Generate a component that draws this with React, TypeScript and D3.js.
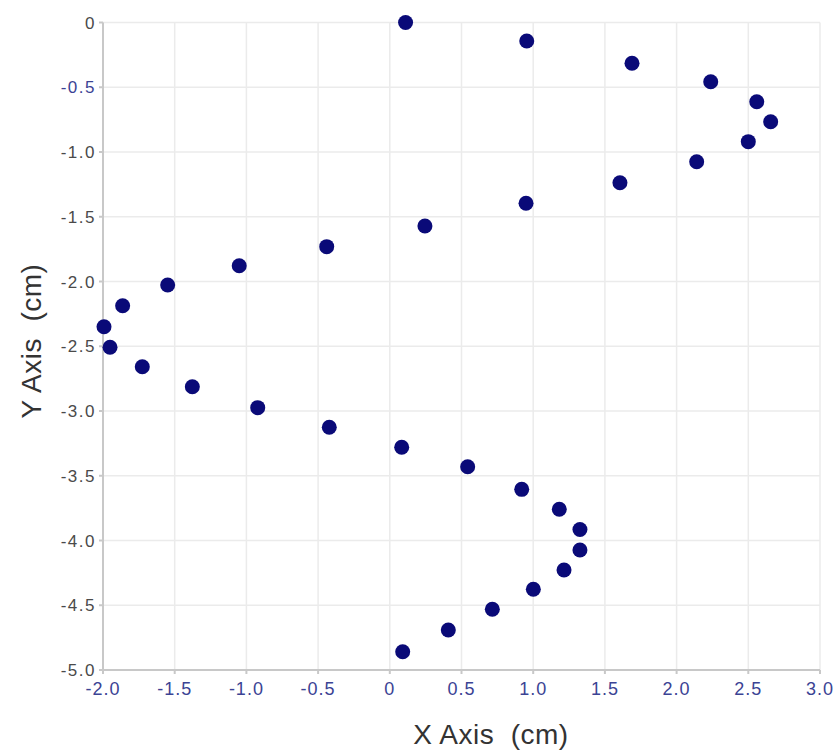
import React from "react";
import * as d3 from "d3";

// Measured positions (cm)
const xValues = [
  0.11, 0.955, 1.689, 2.238, 2.559, 2.656, 2.5, 2.14, 1.605, 0.95, 0.245,
  -0.44, -1.05, -1.549, -1.863, -1.993, -1.951, -1.726, -1.377, -0.921,
  -0.422, 0.083, 0.543, 0.92, 1.182, 1.326, 1.326, 1.215, 1.001, 0.715,
  0.408, 0.09,
];
const yValues = [
  0.0, -0.143, -0.315, -0.457, -0.612, -0.766, -0.92, -1.075, -1.237, -1.396,
  -1.571, -1.731, -1.878, -2.027, -2.187, -2.349, -2.508, -2.658, -2.813,
  -2.974, -3.126, -3.28, -3.43, -3.605, -3.759, -3.915, -4.073, -4.228,
  -4.377, -4.531, -4.691, -4.859,
];
const xTicks = [-2.0, -1.5, -1.0, -0.5, 0, 0.5, 1.0, 1.5, 2.0, 2.5, 3.0];
const xTickLabels = ["-2.0", "-1.5", "-1.0", "-0.5", "0", "0.5", "1.0", "1.5", "2.0", "2.5", "3.0"];
const yTicks = [0, -0.5, -1.0, -1.5, -2.0, -2.5, -3.0, -3.5, -4.0, -4.5, -5.0];
const yTickLabels = ["0", "-0.5", "-1.0", "-1.5", "-2.0", "-2.5", "-3.0", "-3.5", "-4.0", "-4.5", "-5.0"];

const W = 834;
const H = 751;
const left = 103;
const right = 820;
const top = 22.5;
const bottom = 670;

const font = "'Liberation Sans', Arial, sans-serif";

export default function App() {
  const x = d3.scaleLinear().domain([-2, 3]).range([left, right]);
  const y = d3.scaleLinear().domain([-5, 0]).range([bottom, top]);
  const points = xValues.map((v, i) => ({ x: v, y: yValues[i] }));

  return (
    <svg
      width={W}
      height={H}
      style={{ position: "absolute", left: 0, top: 0, background: "#fff" }}
    >
      {/* grid */}
      <g stroke="#ebebeb" strokeWidth={1.5}>
        {xTicks.map((t) => (
          <line key={"gx" + t} x1={x(t)} x2={x(t)} y1={top} y2={bottom} />
        ))}
        {yTicks.map((t) => (
          <line key={"gy" + t} x1={left} x2={right} y1={y(t)} y2={y(t)} />
        ))}
      </g>
      {/* axes */}
      <g stroke="#c8c8c8" strokeWidth={2}>
        <line x1={left} x2={left} y1={top} y2={bottom + 1} />
        <line x1={left - 1} x2={right} y1={bottom} y2={bottom} />
        {xTicks.map((t) => (
          <line key={"tx" + t} x1={x(t)} x2={x(t)} y1={bottom} y2={bottom + 4} />
        ))}
        {yTicks.map((t) => (
          <line key={"ty" + t} x1={left - 4} x2={left} y1={y(t)} y2={y(t)} />
        ))}
      </g>
      {/* tick labels */}
      <g fontFamily={font} fontSize={17} letterSpacing={1.5}>
        {yTicks.map((t, i) => (
          <text
            key={"ly" + t}
            x={left - 7}
            y={y(t)}
            dy="0.36em"
            textAnchor="end"
            fill={yTickLabels[i] === "-0.5" ? "#3b4394" : "#4a4a4a"}
          >
            {yTickLabels[i]}
          </text>
        ))}
      </g>
      <g fontFamily={font} fontSize={18} letterSpacing={1} fill="#3b4394">
        {xTicks.map((t, i) => (
          <text key={"lx" + t} x={x(t)} y={695} textAnchor="middle">
            {xTickLabels[i]}
          </text>
        ))}
      </g>
      {/* axis titles */}
      <text
        x={491}
        y={744}
        textAnchor="middle"
        fontFamily={font}
        fontSize={28}
        letterSpacing={0.5}
        fill="#333"
        style={{ whiteSpace: "pre" }}
      >
        {"X Axis  (cm)"}
      </text>
      <text
        transform={`translate(41, 341) rotate(-90)`}
        textAnchor="middle"
        fontFamily={font}
        fontSize={28}
        letterSpacing={0.5}
        fill="#333"
        style={{ whiteSpace: "pre" }}
      >
        {"Y Axis  (cm)"}
      </text>
      {/* points */}
      <g fill="#0a0a78">
        {points.map((p, i) => (
          <circle key={i} cx={x(p.x)} cy={y(p.y)} r={7.5} />
        ))}
      </g>
    </svg>
  );
}
